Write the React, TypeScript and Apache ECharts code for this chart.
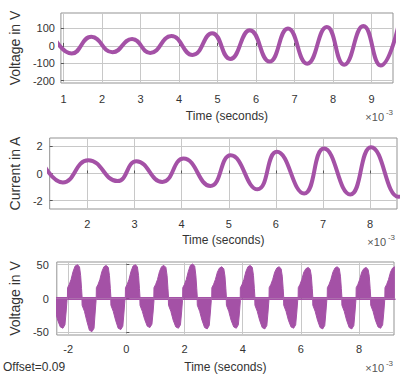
import React, { useEffect, useRef } from "react";
import * as echarts from "echarts";

// ---------- data (time in ms, displayed with ×10^-3) ----------
// Panel 1: peaks and troughs of the voltage
const X1_TICKS = [1, 2, 3, 4, 5, 6, 7, 8, 9];
const Y1_TICKS = [-200, -100, 0, 100];
const VOLTAGE1: [number, number][] = [
  [0.75, 48], [1.21, -44], [1.72, 52], [2.27, -36], [2.78, 40], [3.25, -40], [3.8, 57], [4.35, -52],
  [4.86, 73], [5.33, -75], [5.84, 90], [6.35, -90], [6.83, 100], [7.33, -102], [7.84, 109], [8.29, -108],
  [8.79, 115], [9.24, -112], [9.7, 116],
];

// Panel 2: peaks and troughs of the current
const X2_TICKS = [2, 3, 4, 5, 6, 7, 8];
const Y2_TICKS = [-2, 0, 2];
const CURRENT: [number, number][] = [
  [1.02, 1.0], [1.48, -0.66], [2.02, 0.98], [2.64, -0.56], [3.04, 0.9], [3.59, -0.62], [4.04, 1.1],
  [4.61, -0.92], [5.04, 1.34], [5.61, -1.17], [6.02, 1.6], [6.6, -1.47], [7.02, 1.84], [7.58, -1.55],
  [8.02, 1.94], [8.6, -1.72], [9.1, 2.0],
];

// Panel 3: upper and lower envelope of the switched (PWM) voltage
const X3_TICKS = [-2, 0, 2, 4, 6, 8];
const Y3_TICKS = [-50, 0, 50];
const V3_UPPER: [number, number][] = [
  [-2.45, 1.5],
  [-2.025, 1.5], [-2.02, 16], [-1.96, 21], [-1.9, 28], [-1.83, 40], [-1.76, 48], [-1.68, 50], [-1.61, 47], [-1.57, 34], [-1.54, 15], [-1.52, 1.5],
  [-1.035, 1.5], [-1.03, 16], [-0.97, 21], [-0.91, 28], [-0.84, 40], [-0.77, 47], [-0.69, 49], [-0.62, 46], [-0.58, 34], [-0.55, 15], [-0.53, 1.5],
  [-0.035, 1.5], [-0.03, 16], [0.03, 21], [0.09, 28], [0.16, 40], [0.23, 48], [0.31, 50], [0.38, 47], [0.42, 34], [0.45, 15], [0.47, 1.5],
  [0.945, 1.5], [0.95, 16], [1.01, 21], [1.07, 28], [1.14, 40], [1.21, 47], [1.29, 49], [1.36, 46], [1.4, 34], [1.43, 15], [1.45, 1.5],
  [1.935, 1.5], [1.94, 16], [2.0, 21], [2.06, 28], [2.13, 40], [2.2, 49], [2.28, 51], [2.35, 48], [2.39, 34], [2.42, 15], [2.44, 1.5],
  [2.935, 1.5], [2.94, 16], [3.0, 21], [3.06, 28], [3.13, 39], [3.2, 45], [3.28, 47], [3.35, 44], [3.39, 33], [3.42, 15], [3.44, 1.5],
  [3.915, 1.5], [3.92, 16], [3.98, 21], [4.04, 28], [4.11, 40], [4.18, 47], [4.26, 49], [4.33, 46], [4.37, 34], [4.4, 15], [4.42, 1.5],
  [4.905, 1.5], [4.91, 16], [4.97, 21], [5.03, 28], [5.1, 39], [5.17, 45], [5.25, 47], [5.32, 44], [5.36, 33], [5.39, 15], [5.41, 1.5],
  [5.905, 1.5], [5.91, 16], [5.97, 21], [6.03, 28], [6.1, 39], [6.17, 44], [6.25, 46], [6.32, 43], [6.36, 33], [6.39, 15], [6.41, 1.5],
  [6.905, 1.5], [6.91, 16], [6.97, 21], [7.03, 28], [7.1, 39], [7.17, 45], [7.25, 47], [7.32, 44], [7.36, 33], [7.39, 15], [7.41, 1.5],
  [7.895, 1.5], [7.9, 16], [7.96, 21], [8.02, 28], [8.09, 39], [8.16, 44], [8.24, 46], [8.31, 43], [8.35, 33], [8.38, 15], [8.4, 1.5],
  [8.885, 1.5], [8.89, 16], [8.95, 21], [9.01, 28], [9.08, 39], [9.15, 45], [9.23, 47],
];
const V3_LOWER: [number, number][] = [
  [-2.52, -10], [-2.44, -19], [-2.36, -32], [-2.27, -42], [-2.18, -44], [-2.11, -39], [-2.07, -20], [-2.04, -3], [-2.03, -1.5],
  [-1.525, -1.5], [-1.52, -10], [-1.44, -19], [-1.36, -33], [-1.27, -47], [-1.18, -49], [-1.11, -44], [-1.07, -20], [-1.04, -3], [-1.03, -1.5],
  [-0.535, -1.5], [-0.53, -10], [-0.45, -19], [-0.37, -32], [-0.28, -44], [-0.19, -46], [-0.12, -41], [-0.08, -20], [-0.05, -3], [-0.04, -1.5],
  [0.465, -1.5], [0.47, -10], [0.55, -19], [0.63, -31], [0.72, -41], [0.81, -43], [0.88, -38], [0.92, -20], [0.95, -3], [0.96, -1.5],
  [1.445, -1.5], [1.45, -10], [1.53, -19], [1.61, -32], [1.7, -42], [1.79, -44], [1.86, -39], [1.9, -20], [1.93, -3], [1.94, -1.5],
  [2.435, -1.5], [2.44, -10], [2.52, -19], [2.6, -32], [2.69, -43], [2.78, -45], [2.85, -40], [2.89, -20], [2.92, -3], [2.93, -1.5],
  [3.435, -1.5], [3.44, -10], [3.52, -19], [3.6, -32], [3.69, -42], [3.78, -44], [3.85, -39], [3.89, -20], [3.92, -3], [3.93, -1.5],
  [4.415, -1.5], [4.42, -10], [4.5, -19], [4.58, -32], [4.67, -43], [4.76, -45], [4.83, -40], [4.87, -20], [4.9, -3], [4.91, -1.5],
  [5.405, -1.5], [5.41, -10], [5.49, -19], [5.57, -32], [5.66, -42], [5.75, -44], [5.82, -39], [5.86, -20], [5.89, -3], [5.9, -1.5],
  [6.405, -1.5], [6.41, -10], [6.49, -19], [6.57, -32], [6.66, -43], [6.75, -45], [6.82, -40], [6.86, -20], [6.89, -3], [6.9, -1.5],
  [7.405, -1.5], [7.41, -10], [7.49, -19], [7.57, -32], [7.66, -43], [7.75, -45], [7.82, -40], [7.86, -20], [7.89, -3], [7.9, -1.5],
  [8.395, -1.5], [8.4, -10], [8.48, -19], [8.56, -32], [8.65, -42], [8.74, -44], [8.81, -39], [8.85, -20], [8.88, -3], [8.89, -1.5],
  [9.25, -1.5],
];

const PURPLE = "#a451a6";
const FONT = "'Liberation Sans', Arial, Helvetica, sans-serif";
const TEXT = "#333333";
const GRIDLINE = "#c8c8c8";
const FRAME = "#939393";

function xAxisCfg(gridIndex: number, min: number, max: number, ticks: number[], nameGap: number, labelMargin: number) {
  return {
    type: "value",
    gridIndex,
    min,
    max,
    name: "Time (seconds)",
    nameLocation: "middle",
    nameGap,
    nameTextStyle: { fontFamily: FONT, fontSize: 12, color: TEXT },
    axisLine: { show: false },
    axisTick: { show: true, inside: true, length: 3, lineStyle: { color: "#555" }, customValues: ticks },
    axisLabel: { customValues: ticks, margin: labelMargin, fontFamily: FONT, fontSize: 11, color: TEXT, showMinLabel: true, showMaxLabel: true },
    splitLine: { show: true, lineStyle: { color: GRIDLINE, width: 1 } },
  };
}

function yAxisCfg(gridIndex: number, min: number, max: number, ticks: number[], name: string, nameGap: number, labelMargin: number) {
  return {
    type: "value",
    gridIndex,
    min,
    max,
    name,
    nameLocation: "middle",
    nameGap,
    nameTextStyle: { fontFamily: FONT, fontSize: 14, color: TEXT },
    axisLine: { show: false },
    axisTick: { show: true, inside: true, length: 3, lineStyle: { color: "#555" }, customValues: ticks },
    axisLabel: { customValues: ticks, margin: labelMargin, fontFamily: FONT, fontSize: 11, color: TEXT },
    splitLine: { show: true, lineStyle: { color: GRIDLINE, width: 1 } },
  };
}

function exponentLabel(right: number, cy: number) {
  return [
    {
      type: "text",
      right: 400 - right + 9,
      top: cy - 6,
      style: { text: "×10", fontFamily: FONT, fontSize: 11, fill: "#555" },
    },
    {
      type: "text",
      right: 400 - right,
      top: cy - 9,
      style: { text: "-3", fontFamily: FONT, fontSize: 8, fill: "#555" },
    },
  ];
}

export default function App() {
  const ref = useRef<HTMLDivElement>(null);

  useEffect(() => {
    if (!ref.current) return;
    const chart = echarts.init(ref.current, null, { renderer: "svg" });
    const option: any = {
      animation: false,
      backgroundColor: "#ffffff",
      grid: [
        { left: 56, top: 13, width: 337, height: 70, show: true, borderColor: FRAME, borderWidth: 1, backgroundColor: "transparent" },
        { left: 42, top: 138, width: 355, height: 71, show: true, borderColor: FRAME, borderWidth: 1, backgroundColor: "transparent" },
        { left: 49, top: 262, width: 345, height: 73, show: true, borderColor: FRAME, borderWidth: 1, backgroundColor: "transparent" },
      ],
      xAxis: [
        xAxisCfg(0, 0.93, 9.56, X1_TICKS, 27, 10),
        xAxisCfg(1, 1.2, 8.57, X2_TICKS, 25, 9),
        xAxisCfg(2, -2.39, 9.2, X3_TICKS, 26, 8),
      ],
      yAxis: [
        yAxisCfg(0, -213, 189, Y1_TICKS, "Voltage in V", 35, 6),
        yAxisCfg(1, -2.62, 2.62, Y2_TICKS, "Current in A", 21, 7),
        yAxisCfg(2, -54, 54, Y3_TICKS, "Voltage in V", 28, 8),
      ],
      series: [
        {
          type: "line",
          xAxisIndex: 0,
          yAxisIndex: 0,
          data: VOLTAGE1,
          smooth: 0.5,
          showSymbol: false,
          lineStyle: { color: PURPLE, width: 4 },
        },
        {
          type: "line",
          xAxisIndex: 1,
          yAxisIndex: 1,
          data: CURRENT,
          smooth: 0.5,
          showSymbol: false,
          lineStyle: { color: PURPLE, width: 4 },
        },
        {
          type: "line",
          xAxisIndex: 2,
          yAxisIndex: 2,
          data: V3_UPPER,
          showSymbol: false,
          lineStyle: { color: PURPLE, width: 1 },
          areaStyle: { color: PURPLE, opacity: 1 },
        },
        {
          type: "line",
          xAxisIndex: 2,
          yAxisIndex: 2,
          data: V3_LOWER,
          showSymbol: false,
          lineStyle: { color: PURPLE, width: 1 },
          areaStyle: { color: PURPLE, opacity: 1 },
        },
      ],
      graphic: [
        ...exponentLabel(393, 117),
        ...exponentLabel(395, 242),
        ...exponentLabel(393, 368),
        {
          type: "text",
          left: 3,
          top: 361,
          style: { text: "Offset=0.09", fontFamily: FONT, fontSize: 12, fill: TEXT },
        },
      ],
    };
    chart.setOption(option);
    return () => chart.dispose();
  }, []);

  return (
    <div
      ref={ref}
      style={{ position: "fixed", left: 0, top: 0, width: 400, height: 379, background: "#fff" }}
    />
  );
}
